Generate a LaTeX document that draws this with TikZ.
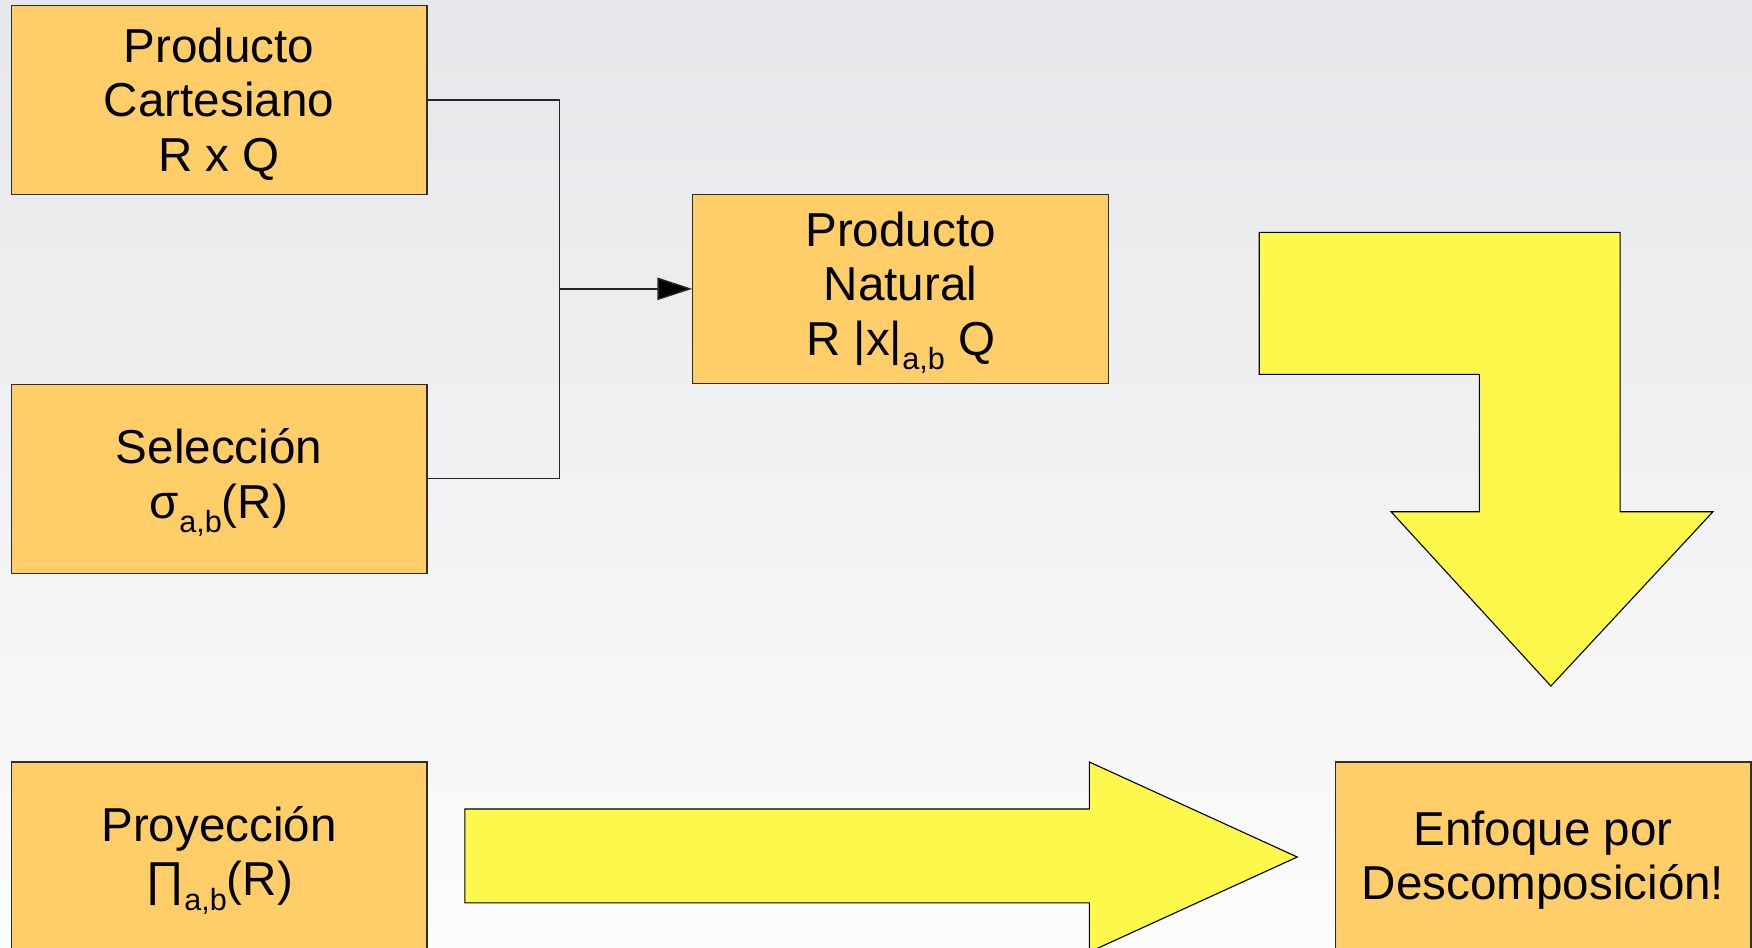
\documentclass[tikz,border=0pt]{standalone}
\usepackage{fontspec}
\setmainfont{Liberation Sans}
\usetikzlibrary{arrows.meta}

\definecolor{boxfill}{RGB}{255,206,105}
\definecolor{arrowfill}{RGB}{252,248,76}
\definecolor{bgtop}{RGB}{230,231,234}
\definecolor{bgbottom}{RGB}{252,252,252}
\definecolor{edge}{RGB}{45,45,45}

% lowered small index, as in R |x|_{a,b} Q
\newcommand{\lowidx}[1]{\raisebox{-6.5pt}{\fontsize{13.7}{14}\selectfont #1}}

\begin{document}
\begin{tikzpicture}[x=0.5pt,y=-0.5pt,
  opbox/.style={draw=edge, line width=0.6pt, fill=boxfill,
    minimum width=186pt, minimum height=84.5pt, inner sep=0pt},
  optext/.style={inner sep=0pt, align=center,
    font=\fontsize{21.3}{24.3}\selectfont},
  bigarrow/.style={draw=black, line width=0.5pt, fill=arrowfill, line join=miter},
  link/.style={draw=black!85, line width=0.6pt}]

\useasboundingbox (0,0) rectangle (1568,848);
\shade[top color=bgtop, bottom color=bgbottom] (0,0) rectangle (1568,848);

% operation boxes
\node[opbox] (cart) at (196,89.5)  {};
\node[opbox] (sel)  at (196,428.5) {};
\node[opbox] (proy) at (196,766.5) {};
\node[opbox] (nat)  at (806,258.5) {};
\node[opbox] (enf)  at (1381,766.5) {};

% box captions, set a little below each box centre
\node[optext] (cart-t) at ([yshift=-1.8pt]cart.center) {Producto\\Cartesiano\\R x Q};
\node[optext] (sel-t)  at ([yshift=-1.8pt]sel.center)  {Selección\\σ\lowidx{a,b}(R)};
\node[optext] (proy-t) at ([yshift=-1.8pt]proy.center) {Proyección\\∏\lowidx{a,b}(R)};
\node[optext] (nat-t)  at ([yshift=-1.8pt]nat.center)  {Producto\\Natural\\R |x|\lowidx{a,b} Q};
\node[optext] (enf-t)  at ([yshift=-1.8pt]enf.center)  {Enfoque por\\Descomposición!};

% joining connector into the natural product
\coordinate (join) at (501,258.5);
\draw[link] (cart.east) -| (join);
\draw[link] (sel.east) -| (join);
\draw[link, -{Triangle[length=15.5pt,width=10pt,fill=black]}] (join) -- (nat.west);

% bent block arrow pointing down
\path[bigarrow] (1127,208) -- (1450,208) -- (1450,458) -- (1533,458)
  -- (1388,614) -- (1245,458) -- (1324,458) -- (1324,335) -- (1127,335) -- cycle;

% block arrow pointing right
\path[bigarrow] (416,724) -- (975,724) -- (975,682) -- (1161,767)
  -- (975,852) -- (975,808) -- (416,808) -- cycle;
\end{tikzpicture}
\end{document}
